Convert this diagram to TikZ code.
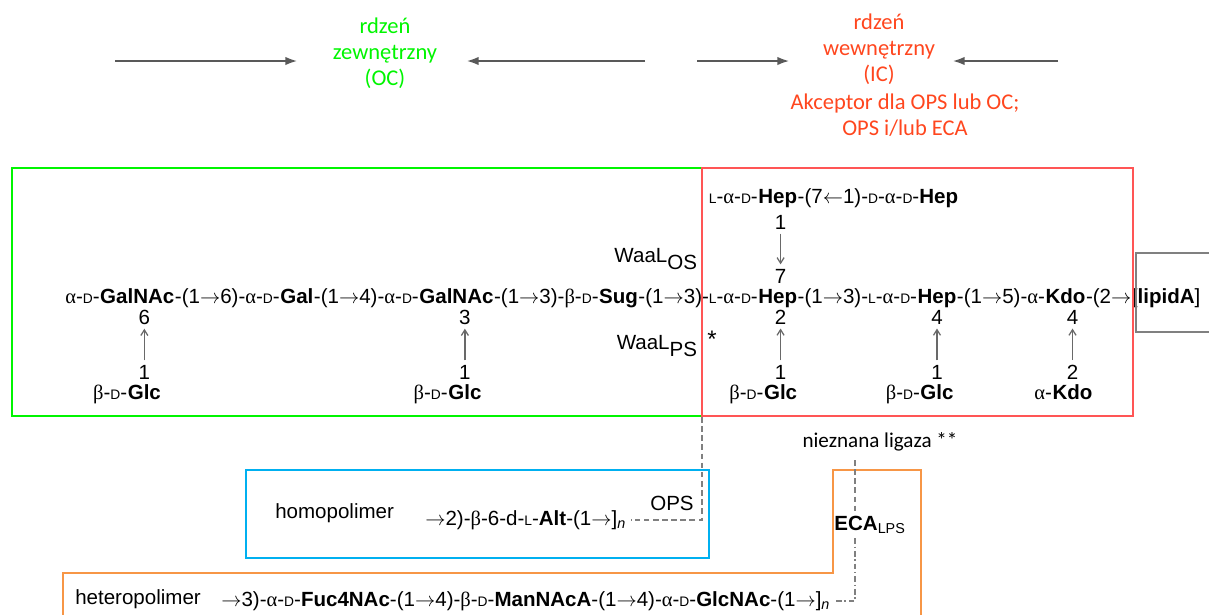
\documentclass[tikz,border=0pt]{standalone}
\usepackage{fontspec}
\setmainfont{Liberation Sans}
\newfontfamily\grkfont{Liberation Serif}
\newfontfamily\calfont{Carlito}
\usetikzlibrary{arrows.meta,positioning}

\definecolor{ocgreen}{RGB}{0,245,0}
\definecolor{icred}{RGB}{255,85,85}
\definecolor{ictext}{RGB}{255,70,30}
\definecolor{opsblue}{RGB}{0,176,240}
\definecolor{ecaorange}{RGB}{247,150,70}
\definecolor{linkgray}{RGB}{105,105,105}

\newcommand{\al}{{\grkfont α}}
\newcommand{\be}{{\grkfont β}}
\newcommand{\sD}{{\fontsize{9.8}{10}\selectfont D}}
\newcommand{\sL}{{\fontsize{9.8}{10}\selectfont L}}
\newcommand{\toR}{$\rightarrow$}
\newcommand{\toL}{$\leftarrow$}
\newcommand{\chem}{\fontsize{14.6}{16}\selectfont}
\newcommand{\lab}{\calfont\fontsize{16}{18.5}\selectfont}

\tikzset{
  chain/.style={inner sep=0pt, anchor=base west, font=\chem},
  num/.style={inner sep=0pt, anchor=base, font=\chem},
  link/.style={-{Straight Barb[length=4pt,width=5pt]}, draw=linkgray, line width=0.9pt,
    shorten <=3pt, shorten >=3pt},
  bigarrow/.style={-{Latex[length=9pt,width=6pt]}, draw=black!65, line width=2pt},
  dashlink/.style={draw=black!50, line width=1.1pt, dash pattern=on 4pt off 2.5pt},
  frame/.style={line width=2pt},
}

\begin{document}
\begin{tikzpicture}[x=0.025cm, y=-0.025cm]
\useasboundingbox (0,0) rectangle (1209,614);

% core labels
\node[font=\lab, text=ocgreen, align=center] (octxt) at (385,53) {rdzeń\\zewnętrzny\\(OC)};
\node[font=\lab, text=ictext, align=center] (ictxt) at (879,49) {rdzeń\\wewnętrzny\\(IC)};
\node[font=\lab, text=ictext, align=center] (icnote) at (905,115) {Akceptor dla OPS lub OC;\\OPS i/lub ECA};

\coordinate (a1s) at (115,61); \coordinate (a1e) at (298,61);
\coordinate (a2s) at (645,61); \coordinate (a2e) at (466,61);
\coordinate (a3s) at (697,61); \coordinate (a3e) at (790,61);
\coordinate (a4s) at (1058,61); \coordinate (a4e) at (952,61);
\foreach \s/\e in {a1s/a1e, a2s/a2e, a3s/a3e, a4s/a4e}
  \draw[bigarrow] (\s) -- (\e);

% main chain
\node[chain] (p1) at (65,303) {\al-\sD-};
\node[chain] (r1) at (p1.base east) {\textbf{GalNAc}};
\node[chain] (k1) at (r1.base east) {-(1\toR6)-\al-\sD-};
\node[chain] (r2) at (k1.base east) {\textbf{Gal}};
\node[chain] (k2) at (r2.base east) {-(1\toR4)-\al-\sD-};
\node[chain] (r3) at (k2.base east) {\textbf{GalNAc}};
\node[chain] (k3) at (r3.base east) {-(1\toR3)-\be-\sD-};
\node[chain] (r4) at (k3.base east) {\textbf{Sug}};
\node[chain] (k4) at (r4.base east) {-(1\toR3)-\sL-\al-\sD-};
\node[chain] (r5) at (k4.base east) {\textbf{Hep}};
\node[chain] (k5) at (r5.base east) {-(1\toR3)-\sL-\al-\sD-};
\node[chain] (r6) at (k5.base east) {\textbf{Hep}};
\node[chain] (k6) at (r6.base east) {-(1\toR5)-\al-};
\node[chain] (r7) at (k6.base east) {\textbf{Kdo}};
\node[chain] (k7) at (r7.base east) {-(2\toR};
\node[chain] (r8) at (k7.base east) {[\textbf{lipidA}]};

% side branches
\foreach \r/\d/\n/\m/\b/\p in {r1/5/6/1/Glc/\be-\sD-, r3/6/3/1/Glc/\be-\sD-, r5/2/2/1/Glc/\be-\sD-,
                              r6/0/4/1/Glc/\be-\sD-, r7/5/4/2/Kdo/\al-}{
  \node[num] (\r n) at ([xshift=\d pt]\r.base |- 0,324) {\n};
  \node[num] (\r m) at ([xshift=\d pt]\r.base |- 0,379) {\m};
  \node[chain, anchor=base] (\r b) at ([xshift=\d pt]\r.base |- 0,399) {\textbf{\b}};
  \node[chain, anchor=base east] (\r p) at (\r b.base west) {\p};
  \draw[link] (\r m) -- (\r n);
}

% upper heptose
\node[chain, anchor=base] (t1) at (r5.base |- 0,203) {\textbf{Hep}};
\node[chain, anchor=base east] (t0) at (t1.base west) {\sL-\al-\sD-};
\node[chain] (t2) at (t1.base east) {-(7\toL1)-\sD-\al-\sD-\textbf{Hep}};
\node[num] (t1m) at ([xshift=2pt]t1.base |- 0,229) {1};
\node[num] (t1n) at ([xshift=2pt]r5.base |- 0,283) {7};
\draw[link] (t1m) -- (t1n);

\node[chain, anchor=base east] (waalos) at (698,262) {WaaL$_{\mbox{OS}}$};
\node[chain, anchor=base east] (waalps) at (698,349) {WaaL$_{\mbox{PS}}$};
\node[font=\fontsize{17}{17}\selectfont, inner sep=0pt] (star) at (712,339) {*};

% frames
\draw[frame, ocgreen] (12,168) rectangle (702,416);
\draw[frame, icred] (702,168) rectangle (1133,416);
\draw[frame, black!50] (1215,253) -- (1136,253) -- (1136,332) -- (1215,332);
\draw[frame, opsblue] (246,470) rectangle (709,558);
\draw[frame, ecaorange] (63,620) -- (63,573) -- (833,573) -- (833,470) -- (921,470) -- (921,620);

% O-antigen
\node[chain] (homo) at (275,518) {homopolimer};
\node[chain] (alt) at (425,525) {\toR2)-\be-6-d-\sL-\textbf{Alt}-(1\toR]\textsubscript{\textit{n}}};
\node[font=\chem, inner sep=0pt] (ops) at (672,503) {OPS};
\coordinate (opsjoin) at (702,417);
\draw[dashlink] (opsjoin) |- ([xshift=3pt]alt.east);

% ECA
\node[chain] (hetero) at (75,604) {heteropolimer};
\node[chain] (hetchain) at (221,606) {\toR3)-\al-\sD-\textbf{Fuc4NAc}-(1\toR4)-\be-\sD-\textbf{ManNAcA}-(1\toR4)-\al-\sD-\textbf{GlcNAc}-(1\toR]\textsubscript{\textit{n}}};
\node[font=\calfont\fontsize{15}{17}\selectfont, inner sep=0pt] (lig) at (880,442) {nieznana ligaza **};
\node[font=\chem, inner sep=0pt] (eca) at (870,525) {\textbf{ECA}\textsubscript{LPS}};
\coordinate (ecax) at (855,0);
\draw[dashlink] ([yshift=-6pt]lig.south -| ecax) -- ([yshift=3pt]eca.north -| ecax);
\draw[dashlink, dash pattern=on 4pt off 2pt on 1pt off 2pt] ([yshift=-3pt]eca.south -| ecax) |- ([xshift=3pt]hetchain.east);
\end{tikzpicture}
\end{document}
